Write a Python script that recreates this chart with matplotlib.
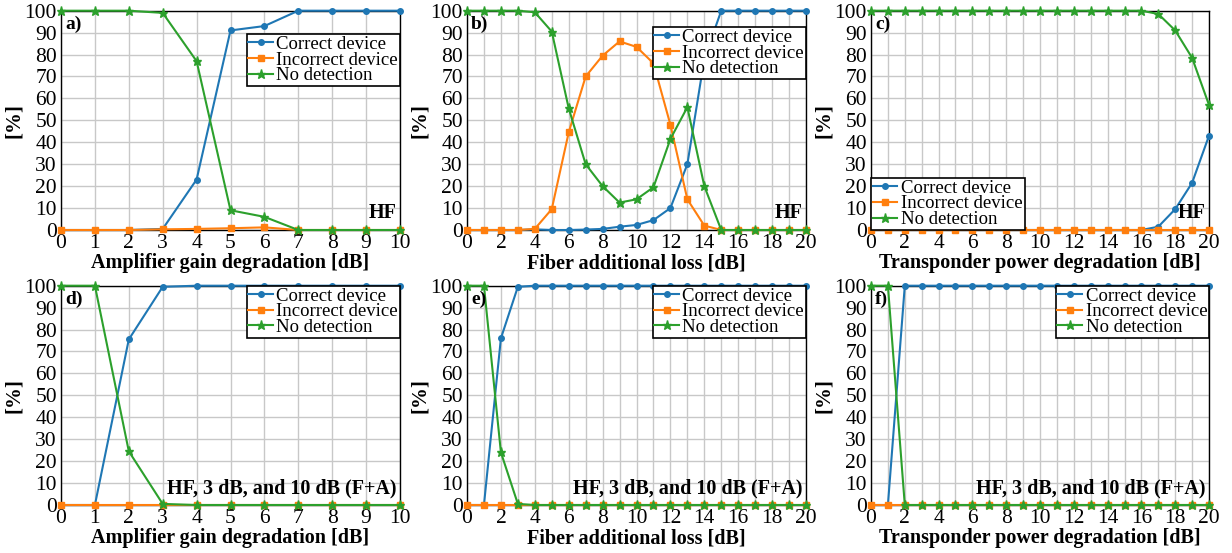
import matplotlib
matplotlib.use("Agg")
import matplotlib.pyplot as plt
import numpy as np

plt.rcParams['font.family'] = ['Liberation Serif', 'DejaVu Serif']

# x values
x10 = list(range(0, 11))
x20 = list(range(0, 21))

# a) Amplifier gain degradation, HF
a_correct = [0, 0, 0, 0.5, 23, 91, 93, 100, 100, 100, 100]
a_incorrect = [0, 0, 0, 0.3, 0.5, 0.8, 1.2, 0, 0, 0, 0]
a_nodet = [100, 100, 100, 99, 77, 9, 6, 0, 0, 0, 0]

# b) Fiber additional loss, HF
b_correct = [0, 0, 0, 0, 0.3, 0, 0, 0.2, 0.5, 1.5, 2.3, 4.5, 10, 30, 78, 100, 100, 100, 100, 100, 100]
b_incorrect = [0, 0, 0, 0, 0.5, 9.5, 44.5, 70, 79.5, 86, 83.5, 76, 48, 14, 2, 0, 0, 0, 0, 0, 0]
b_nodet = [100, 100, 100, 100, 99.3, 90.5, 55.5, 30, 20, 12.5, 14, 19.5, 41.5, 56, 20, 0, 0, 0, 0, 0, 0]

# c) Transponder power degradation, HF
c_correct = [0] * 17 + [1.5, 9.5, 21.5, 43]
c_incorrect = [0] * 21
c_nodet = [100] * 17 + [98.5, 91, 78.5, 57]

# d) Amplifier gain degradation, HF + 3 dB + 10 dB
d_correct = [0, 0, 75.5, 99.5, 100, 100, 100, 100, 100, 100, 100]
d_incorrect = [0] * 11
d_nodet = [100, 100, 24.5, 0.5, 0, 0, 0, 0, 0, 0, 0]

# e) Fiber additional loss, HF + 3 dB + 10 dB
e_correct = [0, 0, 76, 99.5] + [100] * 17
e_incorrect = [0] * 21
e_nodet = [100, 100, 24, 0.5] + [0] * 17

# f) Transponder power degradation, HF + 3 dB + 10 dB
f_correct = [0, 0] + [100] * 19
f_incorrect = [0] * 21
f_nodet = [100, 100] + [0] * 19

W, H = 1232, 553
fig = plt.figure(figsize=(W / 100, H / 100), dpi=100)

cols = [(61, 400), (467, 806), (871, 1209)]
rows = [(10.7, 230), (285.7, 505)]

panels = [
    ("a)", x10, a_correct, a_incorrect, a_nodet, "Amplifier gain degradation [dB]", "HF", (1.0, 0.894), "upper right"),
    ("b)", x20, b_correct, b_incorrect, b_nodet, "Fiber additional loss [dB]", "HF", (1.0, 0.926), "upper right"),
    ("c)", x20, c_correct, c_incorrect, c_nodet, "Transponder power degradation [dB]", "HF", (0.0, 0.0), "lower left"),
    ("d)", x10, d_correct, d_incorrect, d_nodet, "Amplifier gain degradation [dB]", "HF, 3 dB, and 10 dB (F+A)", (1.0, 1.0), "upper right"),
    ("e)", x20, e_correct, e_incorrect, e_nodet, "Fiber additional loss [dB]", "HF, 3 dB, and 10 dB (F+A)", (1.0, 1.0), "upper right"),
    ("f)", x20, f_correct, f_incorrect, f_nodet, "Transponder power degradation [dB]", "HF, 3 dB, and 10 dB (F+A)", (1.0, 1.0), "upper right"),
]

for i, (tag, x, corr, inc, nod, xlabel, note, anchor, loc) in enumerate(panels):
    r, c = divmod(i, 3)
    x0, x1 = cols[c]
    y0, y1 = rows[r]
    ax = fig.add_axes([x0 / W, 1 - y1 / H, (x1 - x0) / W, (y1 - y0) / H])

    ax.plot(x, corr, color='#1f77b4', marker='o', markersize=4, lw=1.5,
            label='Correct device', clip_on=False, zorder=3)
    ax.plot(x, inc, color='#ff7f0e', marker='s', markersize=5, lw=1.5,
            label='Incorrect device', clip_on=False, zorder=3)
    ax.plot(x, nod, color='#2ca02c', marker='*', markersize=6.5, lw=1.5,
            label='No detection', clip_on=False, zorder=3)

    xmax = x[-1]
    ax.set_xlim(0, xmax)
    ax.set_ylim(0, 100)
    ax.set_xticks(x)
    if xmax == 10:
        ax.set_xticklabels([str(v) for v in x])
    else:
        ax.set_xticklabels([str(v) if v % 2 == 0 else '' for v in x])
    ax.set_yticks(np.arange(0, 101, 10))
    ax.tick_params(length=0, labelsize=15.5)
    ax.tick_params(axis='x', pad=3)
    ax.tick_params(axis='y', pad=3)
    ax.grid(True, color='#c8c8c8', lw=1)
    ax.set_axisbelow(True)
    for s in ax.spines.values():
        s.set_color('black')
        s.set_linewidth(1)

    ax.set_xlabel(xlabel, fontsize=14.5, fontweight='bold', labelpad=0)
    ax.set_ylabel('[%]', fontsize=15, fontweight='bold', labelpad=0)

    ax.text(0.012, 0.975, tag, transform=ax.transAxes, fontsize=14,
            fontweight='bold', ha='left', va='top', zorder=5)
    ax.text(0.99, 0.03, note, transform=ax.transAxes, fontsize=14.5,
            fontweight='bold', ha='right', va='bottom', zorder=5)

    leg = ax.legend(loc=loc, bbox_to_anchor=anchor, fontsize=13.5, frameon=True,
                    fancybox=False, framealpha=1, edgecolor='black',
                    borderpad=0.1, labelspacing=-0.08, handlelength=1.3,
                    handletextpad=0.2, borderaxespad=0)
    leg.get_frame().set_linewidth(1.2)
    leg.set_zorder(6)

fig.savefig('out.png', dpi=100)
